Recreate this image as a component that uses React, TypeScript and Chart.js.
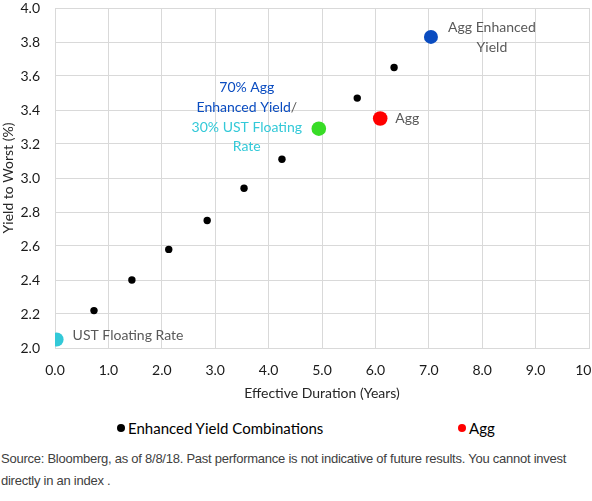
import { useEffect, useRef } from 'react'
import { Chart, registerables } from 'chart.js'

Chart.register(...registerables)

// effective duration (years) / yield to worst (%)
const comboDuration = [0.73, 1.44, 2.13, 2.85, 3.54, 4.25, 5.66, 6.35]
const comboYield = [2.22, 2.40, 2.58, 2.75, 2.94, 3.11, 3.47, 3.65]
const ustPoint = [0.03, 2.05]
const mixPoint = [4.94, 3.29]
const aggPoint = [6.09, 3.35]
const aggEyPoint = [7.04, 3.83]

const xTicks = [0, 1, 2, 3, 4, 5, 6, 7, 8, 9, 10]
const yTicks = [2.0, 2.2, 2.4, 2.6, 2.8, 3.0, 3.2, 3.4, 3.6, 3.8, 4.0]

const FONT = 'Lato, "Open Sans", sans-serif'
const BLUE = '#0a4cc0'
const CYAN = '#33c9d8'

// text next to the points: dataset index, then [text, dx, dy, colour, align]
const pointNotes: { ds: number; lines: [string, number, number, string, CanvasTextAlign][] }[] = [
  { ds: 1, lines: [['UST Floating Rate', 16, -4, '#595959', 'left']] },
  { ds: 3, lines: [['Agg', 15, 0, '#595959', 'left']] },
  { ds: 4, lines: [['Agg Enhanced', 61, -9, '#595959', 'center'], ['Yield', 61, 11, '#595959', 'center']] },
  {
    ds: 2,
    lines: [
      ['70% Agg', -72, -41, BLUE, 'center'],
      ['30% UST Floating', -72, -1, CYAN, 'center'],
      ['Rate', -72, 18, CYAN, 'center'],
    ],
  },
]

const notesPlugin = {
  id: 'notes',
  afterDatasetsDraw(chart: Chart) {
    const ctx = chart.ctx
    ctx.save()
    ctx.font = `14px ${FONT}`
    ctx.textBaseline = 'middle'
    for (const n of pointNotes) {
      const el = chart.getDatasetMeta(n.ds).data[0]
      for (const [t, dx, dy, c, a] of n.lines) {
        ctx.fillStyle = c
        ctx.textAlign = a
        ctx.fillText(t, el.x + dx, el.y + dy)
      }
    }
    // "Enhanced Yield/" with the slash in grey
    const g = chart.getDatasetMeta(2).data[0]
    const a = 'Enhanced Yield'
    const wa = ctx.measureText(a).width
    const ws = ctx.measureText('/').width
    const left = g.x - 72 - (wa + ws) / 2
    ctx.textAlign = 'left'
    ctx.fillStyle = BLUE
    ctx.fillText(a, left, g.y - 21)
    ctx.fillStyle = '#595959'
    ctx.fillText('/', left + wa, g.y - 21)
    ctx.restore()
  },
}

const pt = (p: number[]) => [{ x: p[0], y: p[1] }]

export default function App() {
  const ref = useRef<HTMLCanvasElement>(null)
  useEffect(() => {
    document.body.style.margin = '0'
    if (!ref.current) return
    const chart = new Chart(ref.current, {
      type: 'scatter',
      data: {
        datasets: [
          {
            label: 'Enhanced Yield Combinations',
            data: comboDuration.map((x, i) => ({ x, y: comboYield[i] })),
            backgroundColor: '#000',
            borderWidth: 0,
            pointRadius: 3.7,
          },
          { label: 'UST Floating Rate', data: pt(ustPoint), backgroundColor: CYAN, borderWidth: 0, pointRadius: 7 },
          { label: '70/30', data: pt(mixPoint), backgroundColor: '#38dc26', borderWidth: 0, pointRadius: 7.3 },
          { label: 'Agg', data: pt(aggPoint), backgroundColor: '#ff0000', borderWidth: 0, pointRadius: 7.3 },
          { label: 'Agg Enhanced Yield', data: pt(aggEyPoint), backgroundColor: '#0a4cc0', borderWidth: 0, pointRadius: 7 },
        ],
      },
      options: {
        animation: false,
        responsive: false,
        layout: { autoPadding: false, padding: { left: 0, right: 3, top: 8, bottom: 0 } },
        plugins: { legend: { display: false }, tooltip: { enabled: false } },
        scales: {
          x: {
            type: 'linear',
            min: 0,
            max: 10,
            afterBuildTicks: (s: any) => { s.ticks = xTicks.map((v) => ({ value: v })) },
            afterFit: (s: any) => { s.height = 62; s.paddingLeft = 0; s.paddingRight = 0 },
            grid: { color: '#d9d9d9', drawTicks: false },
            border: { color: '#d9d9d9' },
            ticks: { color: '#1a1a1a', padding: 14, font: { family: FONT, size: 14 }, callback: (v: any) => Number(v).toFixed(1) },
            title: { display: true, text: 'Effective Duration (Years)', color: '#262626', font: { family: FONT, size: 14 }, padding: { top: 4, bottom: 8 } },
          },
          y: {
            type: 'linear',
            min: 2,
            max: 4,
            afterBuildTicks: (s: any) => { s.ticks = yTicks.map((v) => ({ value: v })) },
            afterFit: (s: any) => { s.width = 55; s.paddingTop = 0; s.paddingBottom = 0 },
            grid: { color: '#d9d9d9', drawTicks: false },
            border: { color: '#d9d9d9' },
            ticks: { color: '#1a1a1a', padding: 15, font: { family: FONT, size: 14 }, callback: (v: any) => Number(v).toFixed(1) },
            title: { display: true, text: 'Yield to Worst (%)', color: '#262626', font: { family: FONT, size: 14 }, padding: 0 },
          },
        },
      },
      plugins: [notesPlugin],
    })
    return () => chart.destroy()
  }, [])

  const dot = (c: string) => (
    <span style={{ display: 'inline-block', width: 8, height: 8, borderRadius: 4, background: c, marginRight: 3 }} />
  )

  return (
    <div style={{ position: 'relative', width: 592, height: 501, background: '#fff' }}>
      <canvas ref={ref} width={592} height={410} style={{ position: 'absolute', left: 0, top: 0 }} />
      <div style={{ position: 'absolute', left: 117, top: 419, font: `15px ${FONT}`, color: '#000', display: 'flex', alignItems: 'center' }}>
        {dot('#000')}Enhanced Yield Combinations
      </div>
      <div style={{ position: 'absolute', left: 458, top: 419, font: `15px ${FONT}`, color: '#000', display: 'flex', alignItems: 'center' }}>
        {dot('#ff0000')}Agg
      </div>
      <div style={{ position: 'absolute', left: 1, top: 448, width: 590, font: '13px "Liberation Sans", Arial, sans-serif', letterSpacing: '-0.25px', lineHeight: '22px', color: '#404040' }}>
        Source: Bloomberg, as of 8/8/18. Past performance is not indicative of future results. You cannot invest directly in an index .
      </div>
    </div>
  )
}
